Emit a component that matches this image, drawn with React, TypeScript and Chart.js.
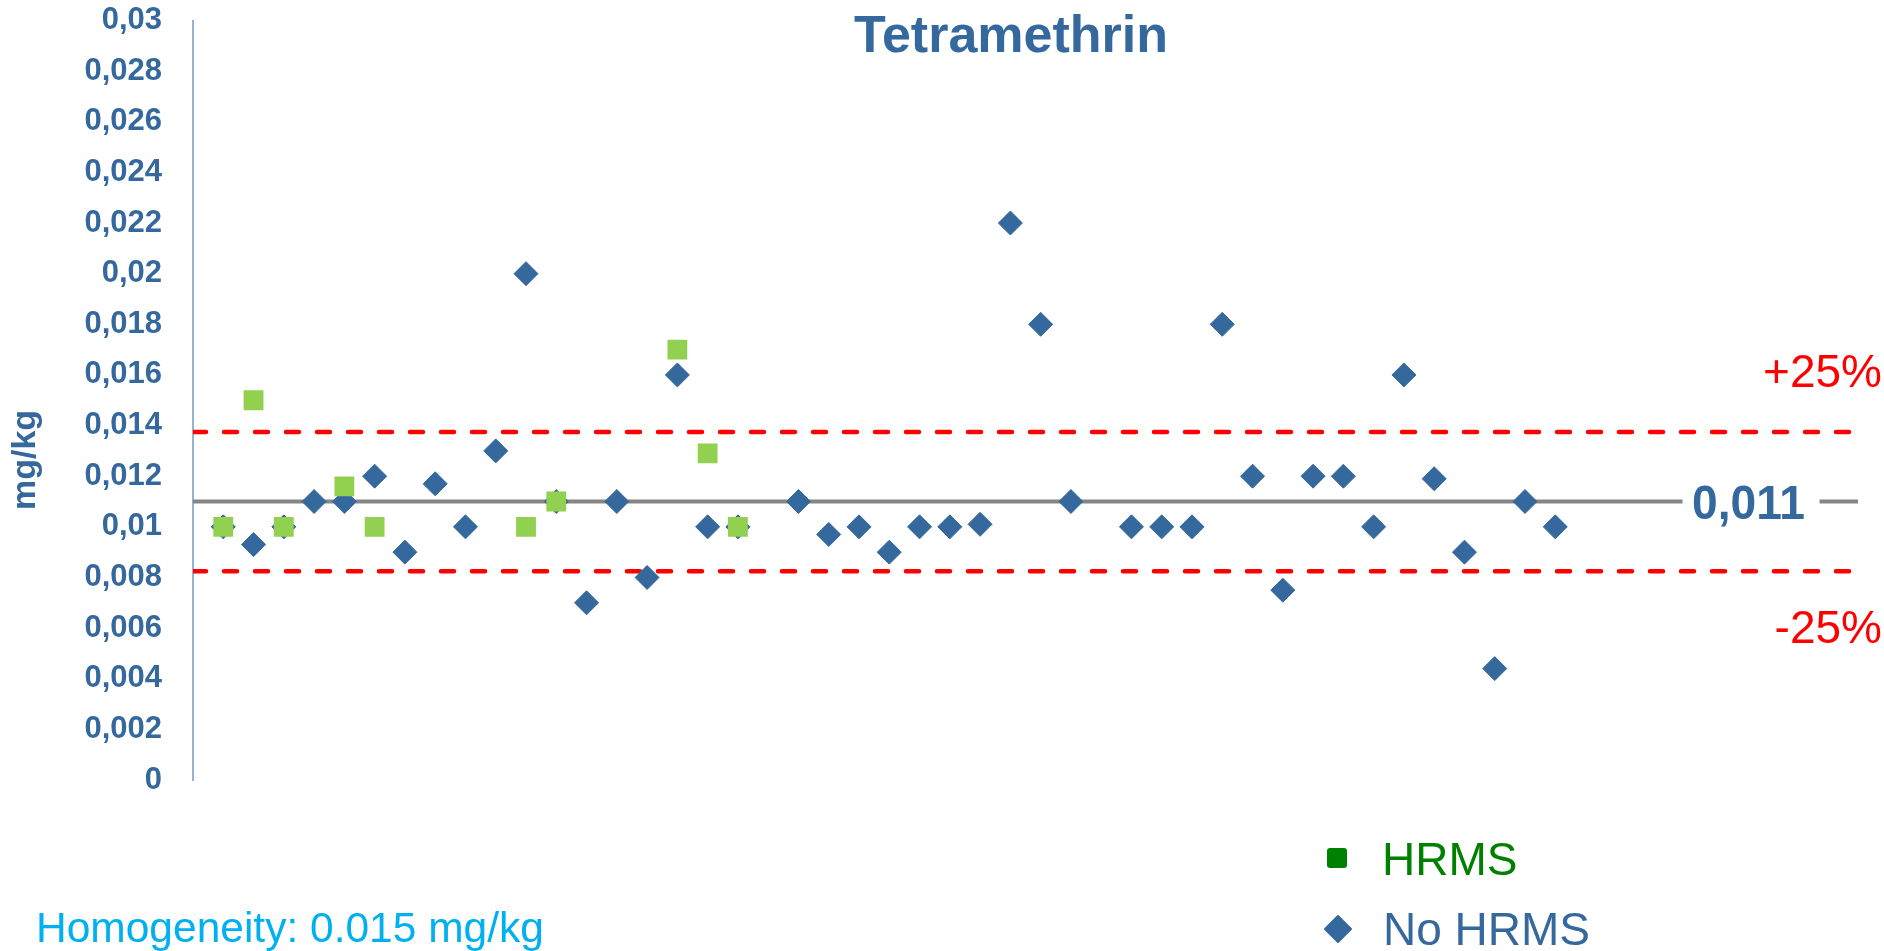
import React, { useEffect, useRef } from 'react';
import { Chart, registerables } from 'chart.js';

Chart.register(...registerables);

// ---------- data ----------
const TITLE = 'Tetramethrin';
const Y_AXIS_TITLE = 'mg/kg';
const Y_TICKS = [0, 0.002, 0.004, 0.006, 0.008, 0.01, 0.012, 0.014, 0.016, 0.018, 0.02, 0.022, 0.024, 0.026, 0.028, 0.03];
const X_MIN = 0;
const X_MAX = 55;

const HRMS_LABS = [1, 2, 3, 5, 6, 11, 12, 16, 17, 18];
const HRMS_VALUES = [0.01, 0.015, 0.01, 0.0116, 0.01, 0.01, 0.011, 0.017, 0.0129, 0.01];

const NO_HRMS_LABS = [
  1, 2, 3, 4, 5, 6, 7, 8, 9, 10, 11, 12, 13, 14, 15, 16, 17, 18,
  20, 21, 22, 23, 24, 25, 26, 27, 28, 29,
  31, 32, 33, 34, 35, 36, 37, 38, 39, 40, 41, 42, 43, 44, 45,
];
const NO_HRMS_VALUES = [
  0.01, 0.0093, 0.01, 0.011, 0.011, 0.012, 0.009, 0.0117, 0.01, 0.013, 0.02, 0.011, 0.007, 0.011, 0.008, 0.016, 0.01, 0.01,
  0.011, 0.0097, 0.01, 0.009, 0.01, 0.01, 0.0101, 0.022, 0.018, 0.011,
  0.01, 0.01, 0.01, 0.018, 0.012, 0.0075, 0.012, 0.012, 0.01, 0.016, 0.0119, 0.009, 0.0044, 0.011, 0.01,
];

const ASSIGNED = 0.011;
const TOLERANCE = 0.25;
const UPPER = ASSIGNED * (1 + TOLERANCE);
const LOWER = ASSIGNED * (1 - TOLERANCE);
const ASSIGNED_LABEL = '0,011';
const ASSIGNED_LABEL_X = 51.45;
const UPPER_LABEL = '+25%';
const LOWER_LABEL = '-25%';
const LEGEND_LABELS = ['HRMS', 'No HRMS'];
const FOOTNOTE = 'Homogeneity: 0.015 mg/kg';

// ---------- styles ----------
const BLUE = '#35689c';
const GREEN = '#92d050';
const LEGEND_GREEN = '#008000';
const RED = '#ff0000';
const GREY = '#858585';
const AXIS_BLUE = '#95b3d7';
const CYAN = '#00b0f0';
const FONT = '"Liberation Sans", Arial, Helvetica, sans-serif';

const fmt = (v: number) => String(Number(v.toFixed(3))).replace('.', ',');

const annotate = {
  id: 'annotate',
  afterDatasetsDraw(chart: any) {
    const { ctx, scales, chartArea } = chart;
    const x = scales.x;
    const y = scales.y;
    ctx.save();
    // assigned value label, interrupting the grey line
    const my = y.getPixelForValue(ASSIGNED);
    const cx = x.getPixelForValue(ASSIGNED_LABEL_X);
    ctx.fillStyle = '#ffffff';
    ctx.fillRect(cx - 68, my - 4, 137, 8);
    ctx.font = `bold 49px ${FONT}`;
    ctx.fillStyle = BLUE;
    ctx.textAlign = 'center';
    ctx.textBaseline = 'alphabetic';
    ctx.fillText(ASSIGNED_LABEL, cx - 2, my + 17, 113);

    // +25% / -25%
    ctx.font = `46px ${FONT}`;
    ctx.fillStyle = RED;
    ctx.textAlign = 'right';
    ctx.fillText(UPPER_LABEL, chartArea.right + 24, y.getPixelForValue(UPPER) - 45, 121);
    ctx.fillText(LOWER_LABEL, chartArea.right + 24, y.getPixelForValue(LOWER) + 72, 109);
    ctx.restore();
  },
  afterDraw(chart: any) {
    const { ctx } = chart;
    ctx.save();
    // title
    ctx.font = `bold 52px ${FONT}`;
    ctx.fillStyle = BLUE;
    ctx.textAlign = 'center';
    ctx.textBaseline = 'alphabetic';
    ctx.fillText(TITLE, 1011, 52, 320);

    // y axis title
    ctx.save();
    ctx.translate(35, 460);
    ctx.rotate(-Math.PI / 2);
    ctx.font = `bold 34px ${FONT}`;
    ctx.fillStyle = BLUE;
    ctx.textAlign = 'center';
    ctx.fillText(Y_AXIS_TITLE, 0, 0, 104);
    ctx.restore();

    // legend
    ctx.fillStyle = LEGEND_GREEN;
    ctx.beginPath();
    (ctx as any).roundRect ? ctx.roundRect(1327, 848, 20, 20, 3) : ctx.rect(1327, 848, 20, 20);
    ctx.fill();
    ctx.font = `46px ${FONT}`;
    ctx.textAlign = 'left';
    ctx.fillText(LEGEND_LABELS[0], 1382, 875);

    ctx.fillStyle = BLUE;
    ctx.strokeStyle = BLUE;
    ctx.lineJoin = 'round';
    ctx.lineWidth = 2;
    ctx.beginPath();
    ctx.moveTo(1338, 916);
    ctx.lineTo(1351, 929);
    ctx.lineTo(1338, 942);
    ctx.lineTo(1325, 929);
    ctx.closePath();
    ctx.fill();
    ctx.stroke();
    ctx.fillText(LEGEND_LABELS[1], 1383, 945);

    // footnote
    ctx.font = `42.5px ${FONT}`;
    ctx.fillStyle = CYAN;
    ctx.fillText(FOOTNOTE, 36, 942);
    ctx.restore();
  },
};

export default function App() {
  const ref = useRef<HTMLCanvasElement>(null);

  useEffect(() => {
    const canvas = ref.current;
    if (!canvas) return;
    const chart = new Chart(canvas, {
      type: 'scatter',
      data: {
        datasets: [
          {
            label: LEGEND_LABELS[0],
            data: HRMS_LABS.map((l, i) => ({ x: l, y: HRMS_VALUES[i] })),
            pointStyle: 'rect',
            pointRadius: 14,
            backgroundColor: GREEN,
            borderColor: GREEN,
            borderWidth: 0,
          },
          {
            label: LEGEND_LABELS[1],
            data: NO_HRMS_LABS.map((l, i) => ({ x: l, y: NO_HRMS_VALUES[i] })),
            pointStyle: 'rectRot',
            pointRadius: 12,
            backgroundColor: BLUE,
            borderColor: BLUE,
            borderWidth: 1,
          },
          {
            type: 'line',
            label: 'assigned',
            data: [{ x: X_MIN, y: ASSIGNED }, { x: X_MAX, y: ASSIGNED }],
            borderColor: GREY,
            borderWidth: 4,
            pointRadius: 0,
            fill: false,
          } as any,
          {
            type: 'line',
            label: 'upper',
            data: [{ x: X_MIN, y: UPPER }, { x: X_MAX, y: UPPER }],
            borderColor: RED,
            borderWidth: 4.5,
            borderDash: [13, 18],
            borderCapStyle: 'round',
            pointRadius: 0,
            fill: false,
          } as any,
          {
            type: 'line',
            label: 'lower',
            data: [{ x: X_MIN, y: LOWER }, { x: X_MAX, y: LOWER }],
            borderColor: RED,
            borderWidth: 4.5,
            borderDash: [13, 18],
            borderCapStyle: 'round',
            pointRadius: 0,
            fill: false,
          } as any,
        ],
      },
      options: {
        animation: false,
        responsive: false,
        devicePixelRatio: 1,
        events: [],
        layout: { padding: { left: 0, right: 26, top: 20.5, bottom: 171 } },
        plugins: {
          legend: { display: false },
          tooltip: { enabled: false },
          title: { display: false },
        },
        scales: {
          x: {
            type: 'linear',
            min: X_MIN,
            max: X_MAX,
            display: false,
          },
          y: {
            type: 'linear',
            min: 0,
            max: 0.03,
            afterBuildTicks: (scale: any) => {
              scale.ticks = Y_TICKS.map((v) => ({ value: v }));
            },
            afterFit: (scale: any) => {
              scale.width = 193;
              scale.paddingTop = 0;
              scale.paddingBottom = 0;
            },
            grid: { display: false, drawTicks: false },
            border: { display: true, color: AXIS_BLUE, width: 2 },
            ticks: {
              padding: 31,
              color: BLUE,
              font: { family: FONT, size: 31, weight: 'bold' },
              callback: (v: any) => fmt(Number(v)),
            },
          },
        },
      } as any,
      plugins: [annotate],
    });
    return () => chart.destroy();
  }, []);

  return (
    <div style={{ position: 'fixed', left: 0, top: 0, width: 1884, height: 951, background: '#ffffff' }}>
      <canvas ref={ref} width={1884} height={951} style={{ display: 'block', width: 1884, height: 951 }} />
    </div>
  );
}
